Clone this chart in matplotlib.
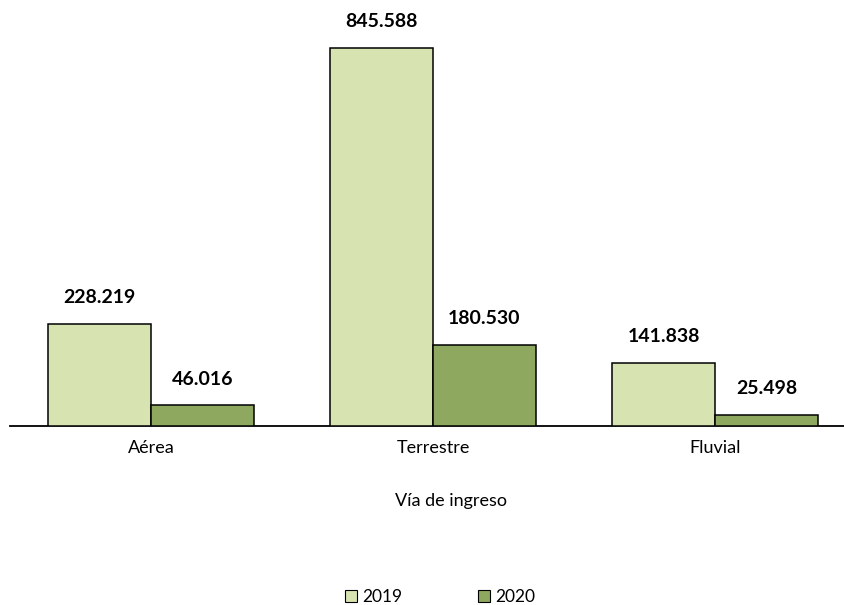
import matplotlib
matplotlib.use("Agg")
import matplotlib.pyplot as plt
import numpy as np
from matplotlib.patches import Patch

categories = ["Aérea", "Terrestre", "Fluvial"]
series_names = ["2019", "2020"]
values_2019 = [228.219, 845.588, 141.838]
values_2020 = [46.016, 180.530, 25.498]
xlabel = "Vía de ingreso"

colors = ["#D7E4B1", "#8FA860"]

plt.rcParams['font.family'] = ['Lato', 'DejaVu Sans']

fig = plt.figure(figsize=(8.44, 6.05), dpi=100)
W, H = 844, 605
left, right = 10, 856
top_px, base_px = 20, 426
ax = fig.add_axes([left / W, 1 - base_px / H, (right - left) / W, (base_px - top_px) / H])

ymax = 845.588 * (base_px - top_px) / (base_px - 48)
x = np.arange(len(categories))
bw = 0.364

def fmt(v):
    return f"{v:.3f}"

for i, (vals, c) in enumerate(zip([values_2019, values_2020], colors)):
    pos = x + (i - 0.5) * bw
    bars = ax.bar(pos, vals, width=bw, color=c, edgecolor="black", linewidth=1.1, zorder=3)
    for b, v in zip(bars, vals):
        ax.annotate(fmt(v), (b.get_x() + b.get_width() / 2, v), xytext=(0, 19),
                    textcoords="offset points", ha="center", va="center",
                    fontsize=14, fontweight="bold", color="black")

ax.set_xlim(-0.5, 2.5)
ax.set_ylim(0, ymax)
for s in ["top", "right", "left"]:
    ax.spines[s].set_visible(False)
ax.spines["bottom"].set_linewidth(1.3)
ax.set_yticks([])
ax.set_xticks(x)
ax.set_xticklabels(categories, fontsize=13)
ax.tick_params(axis="x", length=0, pad=10)
fig.text(451 / W, 1 - 501 / H, xlabel, fontsize=13, ha="center", va="center")

handles = [Patch(facecolor=c, edgecolor="black", linewidth=0.8) for c in colors]
fig.legend(handles, series_names, loc="center", bbox_to_anchor=(440 / W, 1 - 597 / H),
           ncol=2, frameon=False, fontsize=12.5, handlelength=0.7, handleheight=0.7,
           handletextpad=0.25, columnspacing=4.4, borderpad=0, borderaxespad=0)

fig.savefig("out.png", dpi=100)
